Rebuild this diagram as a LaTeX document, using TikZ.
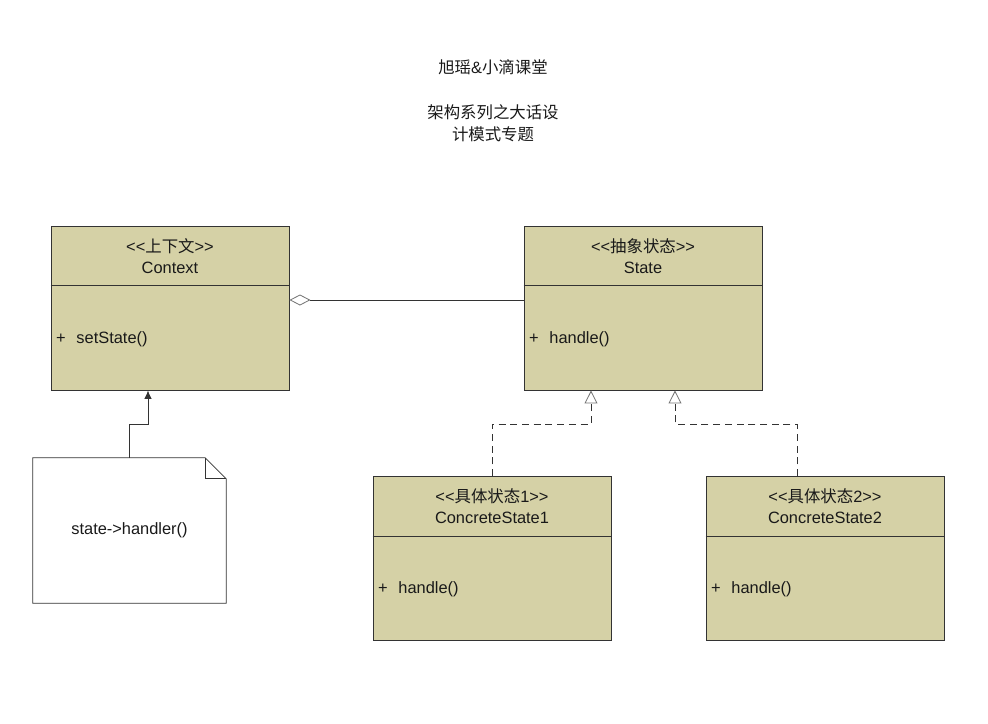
\documentclass[tikz,border=0pt]{standalone}
\usepackage{fontspec}
\setmainfont{Liberation Sans}
\newfontfamily\cjk{Noto Sans CJK SC}
\usetikzlibrary{arrows.meta}

\definecolor{classfill}{RGB}{213,209,166}
\definecolor{lineclr}{RGB}{51,51,51}

% stereotype text, the << >> kept apart
\newcommand{\stereo}[1]{<\kern0pt<#1>\kern0pt>}

\tikzset{
  classbox/.style={draw=lineclr, fill=classfill, line width=0.8pt,
    minimum width=7.14cm, minimum height=4.92cm, inner sep=0pt},
  txt/.style={font=\fontsize{14}{16}\selectfont, text=black!90, inner sep=0pt},
  optxt/.style={txt, anchor=west},
}

\begin{document}
\begin{tikzpicture}[x=0.03cm, y=-0.03cm]
  \useasboundingbox (0,0) rectangle (988,723);

  % ---- title ----
  \node[txt] (title1) at (493,67) {{\cjk 旭瑶}\&{\cjk 小滴课堂}};
  \node[txt] (title2) at (493,112) {\cjk 架构系列之大话设};
  \node[txt] (title3) at (493,134) {\cjk 计模式专题};

  % ---- classes ----
  \node[classbox] (ctx) at (170,308) {};
  \node[classbox] (state) at (643,308) {};
  \node[classbox] (cs1) at (492,558.5) {};
  \node[classbox] (cs2) at (825,558.5) {};
  \foreach \c in {ctx, state, cs1, cs2} {
    \draw[lineclr, line width=0.8pt] ([yshift=-1.8cm]\c.north west) -- ([yshift=-1.8cm]\c.north east);
  }

  % ---- class texts ----
  \node[txt] (ctx-st) at (170,246) {\stereo{{\cjk 上下文}}};
  \node[txt] (ctx-nm) at (170,268) {Context};
  \node[optxt] (ctx-op) at (56,339) {+\hspace{0.65em}setState()};

  \node[txt] (state-st) at (643,246) {\stereo{{\cjk 抽象状态}}};
  \node[txt] (state-nm) at (643,268) {State};
  \node[optxt] (state-op) at (529,339) {+\hspace{0.65em}handle()};

  \node[txt] (cs1-st) at (492,496) {\stereo{{\cjk 具体状态}1}};
  \node[txt] (cs1-nm) at (492,518) {ConcreteState1};
  \node[optxt] (cs1-op) at (378,589) {+\hspace{0.65em}handle()};

  \node[txt] (cs2-st) at (825,496) {\stereo{{\cjk 具体状态}2}};
  \node[txt] (cs2-nm) at (825,518) {ConcreteState2};
  \node[optxt] (cs2-op) at (711,589) {+\hspace{0.65em}handle()};

  % ---- note ----
  \node[minimum width=5.79cm, minimum height=4.35cm, inner sep=0pt] (note) at (129.5,530.5) {};
  \draw[lineclr, line width=0.6pt, fill=white]
    (note.north west) -- ([xshift=-0.63cm]note.north east) -- ([yshift=-0.63cm]note.north east)
    -- (note.south east) -- (note.south west) -- cycle;
  \draw[lineclr, line width=0.6pt]
    ([xshift=-0.63cm]note.north east) -- ([xshift=-0.63cm, yshift=-0.63cm]note.north east)
    -- ([yshift=-0.63cm]note.north east);
  \node[txt] (note-txt) at (note.center) {state->handler()};

  % ---- connectors ----
  \coordinate (agg) at (0,300);
  \draw[lineclr, line width=0.7pt,
    {Diamond[open, length=0.63cm, width=0.33cm, line width=0.7pt, color=black!55]}-]
    (ctx.east |- agg) -- (state.west |- agg);

  \coordinate (nbend) at (148,424);
  \draw[lineclr, line width=0.7pt, -{Latex[length=0.25cm, width=0.22cm]}]
    (note.north) |- (nbend) -- (nbend |- ctx.south);

  \coordinate (g1) at (591,424);
  \coordinate (g2) at (675,424);
  \coordinate (c2top) at (797,476);
  \draw[lineclr, line width=0.7pt, dashed, dash pattern=on 6pt off 4pt,
    -{Triangle[open, length=0.39cm, width=0.39cm, line width=0.7pt, color=black!55]}]
    (cs1.north) |- (g1) -- (g1 |- state.south);
  \draw[lineclr, line width=0.7pt, dashed, dash pattern=on 6pt off 4pt,
    -{Triangle[open, length=0.39cm, width=0.39cm, line width=0.7pt, color=black!55]}]
    (c2top) |- (g2) -- (g2 |- state.south);
\end{tikzpicture}
\end{document}
